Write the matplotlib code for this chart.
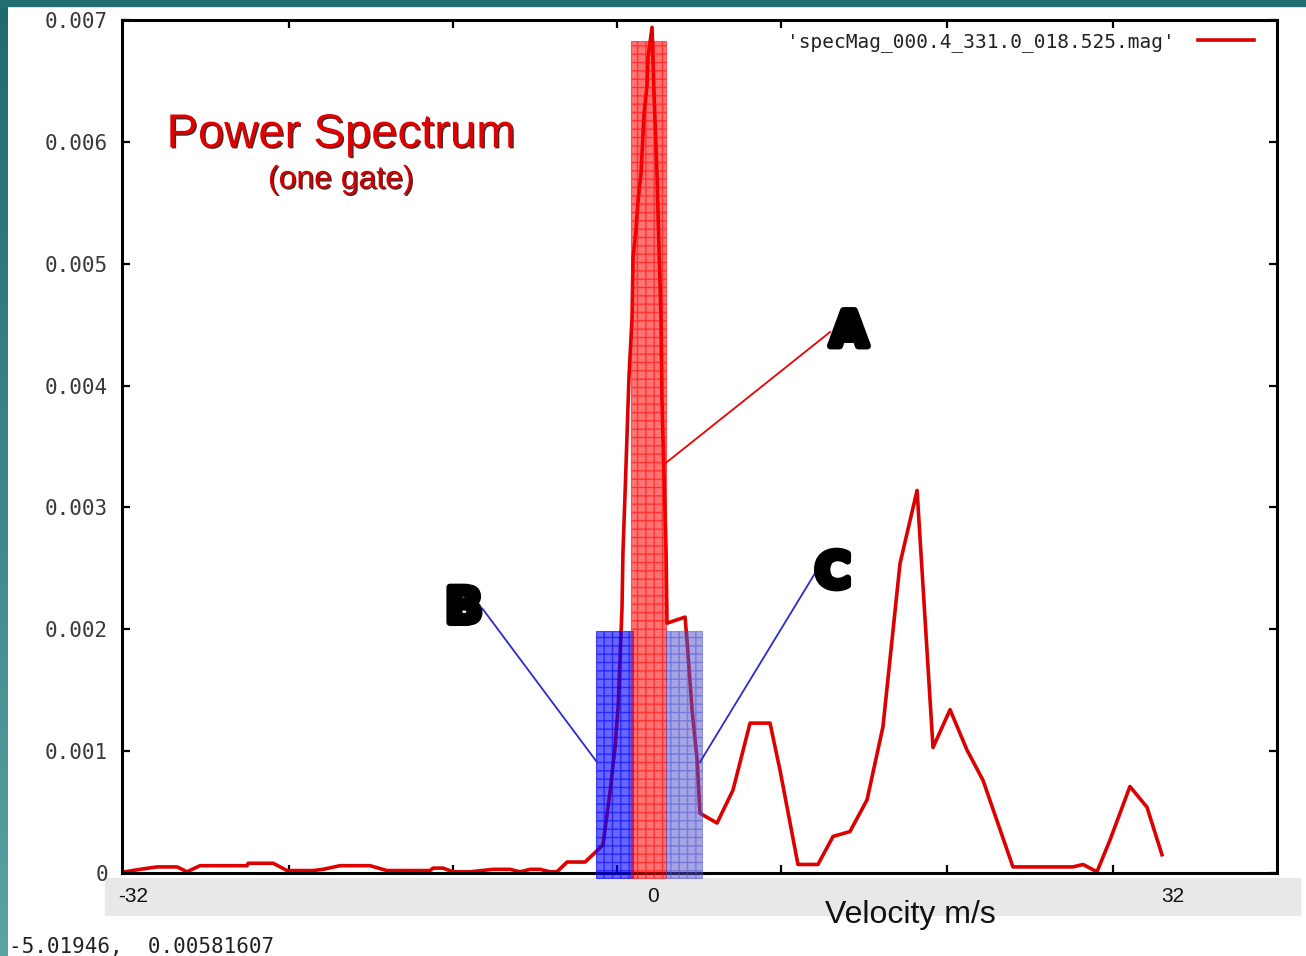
import matplotlib
matplotlib.use("Agg")
import matplotlib.pyplot as plt
import matplotlib.patheffects as pe
from matplotlib.colors import LinearSegmentedColormap
from matplotlib.patches import Rectangle
import numpy as np

W, H = 1306, 956

# spectrum (velocity in m/s, power)
velocity = [-32.49, -31.57, -30.52, -29.29, -28.68, -27.88, -24.98, -24.92,
            -23.38, -22.52, -20.92, -20.31, -19.26, -17.42, -16.37, -13.72,
            -13.54, -12.92, -12.31, -11.26, -9.85, -8.80, -8.18, -7.57,
            -6.95, -6.34, -5.91, -5.29, -4.18, -3.08, -2.65, -2.34, -2.15,
            -1.91, -1.85, -1.72, -1.60, -1.48, -1.29, -1.23, -1.05, -0.92,
            -0.74, -0.55, -0.37, -0.31, -0.06, 0.06, 0.25, 0.37, 0.49, 0.55,
            0.68, 0.80, 0.86, 1.97, 2.09, 2.40, 2.71, 2.89, 3.94, 4.92, 5.97,
            7.20, 7.82, 8.92, 10.15, 11.08, 12.12, 13.17, 14.15, 15.20, 16.25,
            17.23, 18.28, 19.32, 20.31, 22.15, 25.85, 26.46, 27.32, 28.12,
            29.35, 30.40, 31.32]
power = [0.00001, 0.00003, 0.00005, 0.00005, 0.00001, 0.00006, 0.00006,
         0.00008, 0.00008, 0.00002, 0.00002, 0.00003, 0.00006, 0.00006,
         0.00002, 0.00002, 0.00004, 0.00004, 0.00001, 0.00001, 0.00003,
         0.00003, 0.00001, 0.00003, 0.00003, 0.00001, 0.00001, 0.00009,
         0.00009, 0.00023, 0.00066, 0.00103, 0.00136, 0.00217, 0.00263,
         0.00312, 0.00359, 0.00407, 0.00456, 0.00505, 0.00527, 0.00552,
         0.00574, 0.00623, 0.00646, 0.00669, 0.00694, 0.00640, 0.00571,
         0.00511, 0.00456, 0.00388, 0.00325, 0.00265, 0.00205, 0.00210,
         0.00191, 0.00134, 0.00093, 0.00049, 0.00041, 0.00068, 0.00123,
         0.00123, 0.00084, 0.00007, 0.00007, 0.00030, 0.00034, 0.00060,
         0.00120, 0.00254, 0.00314, 0.00103, 0.00134, 0.00101, 0.00076,
         0.00005, 0.00005, 0.00007, 0.00001, 0.00027, 0.00071, 0.00054,
         0.00015]

# highlighted gates
gate_names = ["B", "A", "C"]
gate_lo = [-3.51, -1.35, 0.80]
gate_hi = [-1.23, 0.80, 3.02]
gate_top = [0.00199, 0.00683, 0.00199]
gate_bottom = -0.00004
gate_face = [(0.0, 0.0, 1.0), (1.0, 0.0, 0.0), (0.3, 0.3, 0.8)]
gate_alpha = [0.6, 0.55, 0.5]

# callouts: point on gate, label anchor
callout_from = [(-3.45, 0.00091), (0.74, 0.00336), (2.89, 0.00091)]
callout_to = [(-10.5, 0.00217), (10.9, 0.00444), (9.97, 0.00246)]
callout_color = ["#2a2ad8", "#ee0000", "#2a2ad8"]
callout_ha = ["right", "left", "left"]

y_ticks = [0, 0.001, 0.002, 0.003, 0.004, 0.005, 0.006, 0.007]
y_labels = ["0", "0.001", "0.002", "0.003", "0.004", "0.005", "0.006", "0.007"]
x_ticks = [-22.4, -12.3, -2.2, 7.9, 18.1, 28.3]
band_values = [-32, 0, 32]
band_labels = ["-32", "0", "32"]
series_name = "'specMag_000.4_331.0_018.525.mag'"


fig = plt.figure(figsize=(W / 100, H / 100), dpi=100)
fig.patch.set_facecolor("white")

# slide-like teal border
edge = fig.add_axes([0, 0, 8 / W, 1])
edge.imshow(np.linspace(0, 1, 256)[:, None], aspect="auto",
            cmap=LinearSegmentedColormap.from_list("edge", ["#1f6a6d", "#5aa3a3"]))
edge.axis("off")
fig.add_artist(Rectangle((0, 1 - 6 / H), 1, 6 / H, transform=fig.transFigure,
                         color="#216d70", zorder=5))

# grey strip under the axis
fig.add_artist(Rectangle((105 / W, 1 - 915 / H), (1300 - 105) / W, 37 / H,
                         transform=fig.transFigure, color="#e8e8e8", zorder=-1))

ax = fig.add_axes([122 / W, 1 - 873 / H, (1277 - 122) / W, (873 - 20) / H])
ax.plot(velocity, power, color="#dd0000", lw=2.6, zorder=2, label=series_name)

for lo, hi, top, fc, a in zip(gate_lo, gate_hi, gate_top, gate_face, gate_alpha):
  ax.add_patch(Rectangle((lo, gate_bottom), hi - lo, top - gate_bottom,
                         facecolor=fc, edgecolor=fc, alpha=a, hatch="++",
                         lw=0.8, zorder=3, clip_on=False))

for name, p0, p1, c, ha in zip(gate_names, callout_from, callout_to,
                               callout_color, callout_ha):
  ax.plot([p0[0], p1[0]], [p0[1], p1[1]], color=c, lw=1.3, zorder=4)
  ax.text(p1[0], p1[1], name, ha=ha, va="center", fontsize=35,
          fontweight="heavy", family="DejaVu Sans", color="black", zorder=5,
          path_effects=[pe.withStroke(linewidth=5, foreground="black")])

ax.set_xlim(-32.68, 38.40)
ax.set_ylim(0, 0.007)
ax.set_yticks(y_ticks, y_labels)
ax.set_xticks(x_ticks)
ax.tick_params(axis="both", direction="in", length=6, width=1.6,
               top=True, right=True, labelbottom=False)
ax.tick_params(axis="y", pad=10, labelsize=15, labelcolor="#3a3a3a")
for lab in ax.get_yticklabels():
  lab.set_family("DejaVu Sans Mono")
for s in ax.spines.values():
  s.set_linewidth(2.2)

leg = ax.legend(loc="upper right", bbox_to_anchor=((1254 - 122) / 1155, 1 - 12 / 853),
                frameon=False, markerfirst=False, borderpad=0, borderaxespad=0,
                handlelength=2.9, handletextpad=1.2,
                prop={"family": "DejaVu Sans Mono", "size": 14})
for t in leg.get_texts():
  t.set_color("#222222")

shadow = [pe.withSimplePatchShadow(offset=(1, -1), shadow_rgbFace="#300000", alpha=0.85)]
fig.text(341 / W, 1 - 147 / H, "Power Spectrum", ha="center", va="baseline",
         fontsize=34, family="Liberation Sans", color="#e00000", path_effects=shadow)
fig.text(341 / W, 1 - 188 / H, "(one gate)", ha="center", va="baseline",
         fontsize=23, family="Liberation Sans", color="#d00000", path_effects=shadow)

band = ax.get_xaxis_transform()
for v, lab in zip(band_values, band_labels):
  ax.text(v, -(902 - 873) / 853, lab, transform=band, ha="center", va="baseline",
          fontsize=15, family="Liberation Sans", color="#111111", clip_on=False)
fig.text(910 / W, 1 - 923 / H, "Velocity m/s", ha="center", va="baseline",
         fontsize=23, family="Liberation Sans", color="#111111")

fig.text(9 / W, 1 - 953 / H, "-5.01946,  0.00581607", ha="left", va="baseline",
         fontsize=15, family="DejaVu Sans Mono", color="#222222")

fig.savefig("out.png", dpi=100)
